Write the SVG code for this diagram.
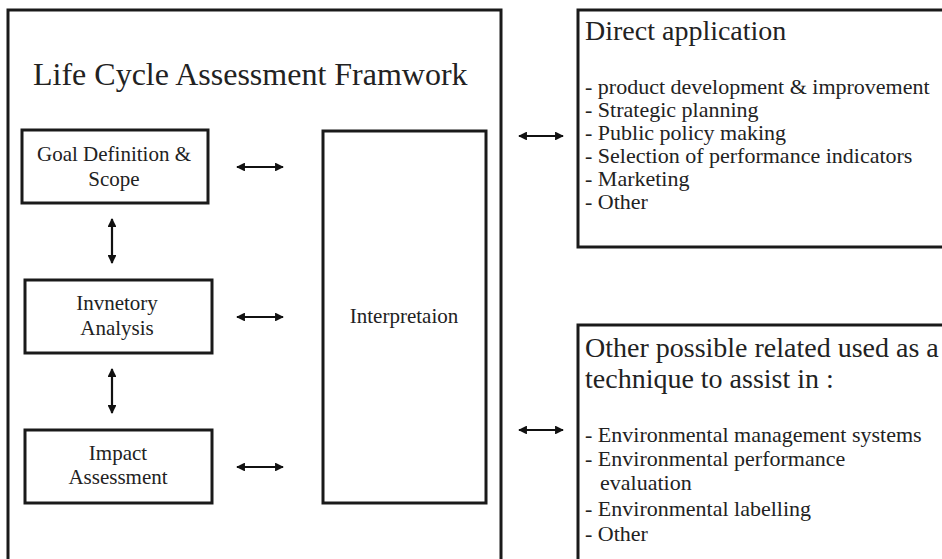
<svg xmlns="http://www.w3.org/2000/svg" width="942" height="559" viewBox="0 0 942 559">
<style>
.box{fill:none;stroke:#1a1a1a;stroke-width:3}
text{font-family:"Liberation Serif","Times New Roman",Times,"DejaVu Serif",serif;fill:#222}
.c{text-anchor:middle}
.conn line{stroke:#111;stroke-width:2.2;marker-start:url(#ah);marker-end:url(#ah)}
</style>
<defs>
<marker id="ah" viewBox="0 0 10 10" refX="9" refY="5" markerWidth="4" markerHeight="4" orient="auto-start-reverse" markerUnits="strokeWidth">
<path d="M0,0 L10,5 L0,10 Z" fill="#111"/>
</marker>
</defs>
<rect width="942" height="559" fill="#fff"/>
<g id="framework">
<rect class="box" x="8" y="10" width="493" height="560"/>
<text x="33" y="85" font-size="32">Life Cycle Assessment Framwork</text>
</g>
<g id="goal">
<rect class="box" x="22" y="130" width="186" height="73"/>
<text class="c" x="114" y="161" font-size="21">Goal Definition &amp;</text>
<text class="c" x="114" y="186" font-size="21">Scope</text>
</g>
<g id="inventory">
<rect class="box" x="25" y="280" width="187" height="73"/>
<text class="c" x="117" y="310" font-size="21">Invnetory</text>
<text class="c" x="117" y="335" font-size="21">Analysis</text>
</g>
<g id="impact">
<rect class="box" x="25" y="430" width="187" height="73"/>
<text class="c" x="118" y="460" font-size="21">Impact</text>
<text class="c" x="118" y="484" font-size="21">Assessment</text>
</g>
<g id="interpretation">
<rect class="box" x="323" y="131" width="163" height="372"/>
<text class="c" x="404" y="323" font-size="21">Interpretaion</text>
</g>
<g id="direct">
<rect class="box" x="578" y="10" width="380" height="237"/>
<text x="585" y="40" font-size="28">Direct application</text>
<text x="585" y="94" font-size="22">- product development &amp; improvement</text>
<text x="585" y="117" font-size="22">- Strategic planning</text>
<text x="585" y="140" font-size="22">- Public policy making</text>
<text x="585" y="163" font-size="22">- Selection of performance indicators</text>
<text x="585" y="186" font-size="22">- Marketing</text>
<text x="585" y="209" font-size="22">- Other</text>
</g>
<g id="other">
<rect class="box" x="578" y="325" width="380" height="250"/>
<text x="585" y="357" font-size="28">Other possible related used as a</text>
<text x="585" y="388" font-size="28">technique to assist in :</text>
<text x="585" y="442" font-size="22">- Environmental management systems</text>
<text x="585" y="466" font-size="22">- Environmental  performance</text>
<text x="600" y="490" font-size="22">evaluation</text>
<text x="585" y="516" font-size="22">- Environmental labelling</text>
<text x="585" y="541" font-size="22">- Other</text>
</g>
<g id="connectors" class="conn">
<line x1="112" y1="219" x2="112" y2="263"/>
<line x1="112" y1="369" x2="112" y2="413"/>
<line x1="237" y1="167" x2="283" y2="167"/>
<line x1="237" y1="317" x2="283" y2="317"/>
<line x1="237" y1="467" x2="283" y2="467"/>
<line x1="519" y1="136" x2="563" y2="136"/>
<line x1="519" y1="430" x2="563" y2="430"/>
</g>
</svg>
